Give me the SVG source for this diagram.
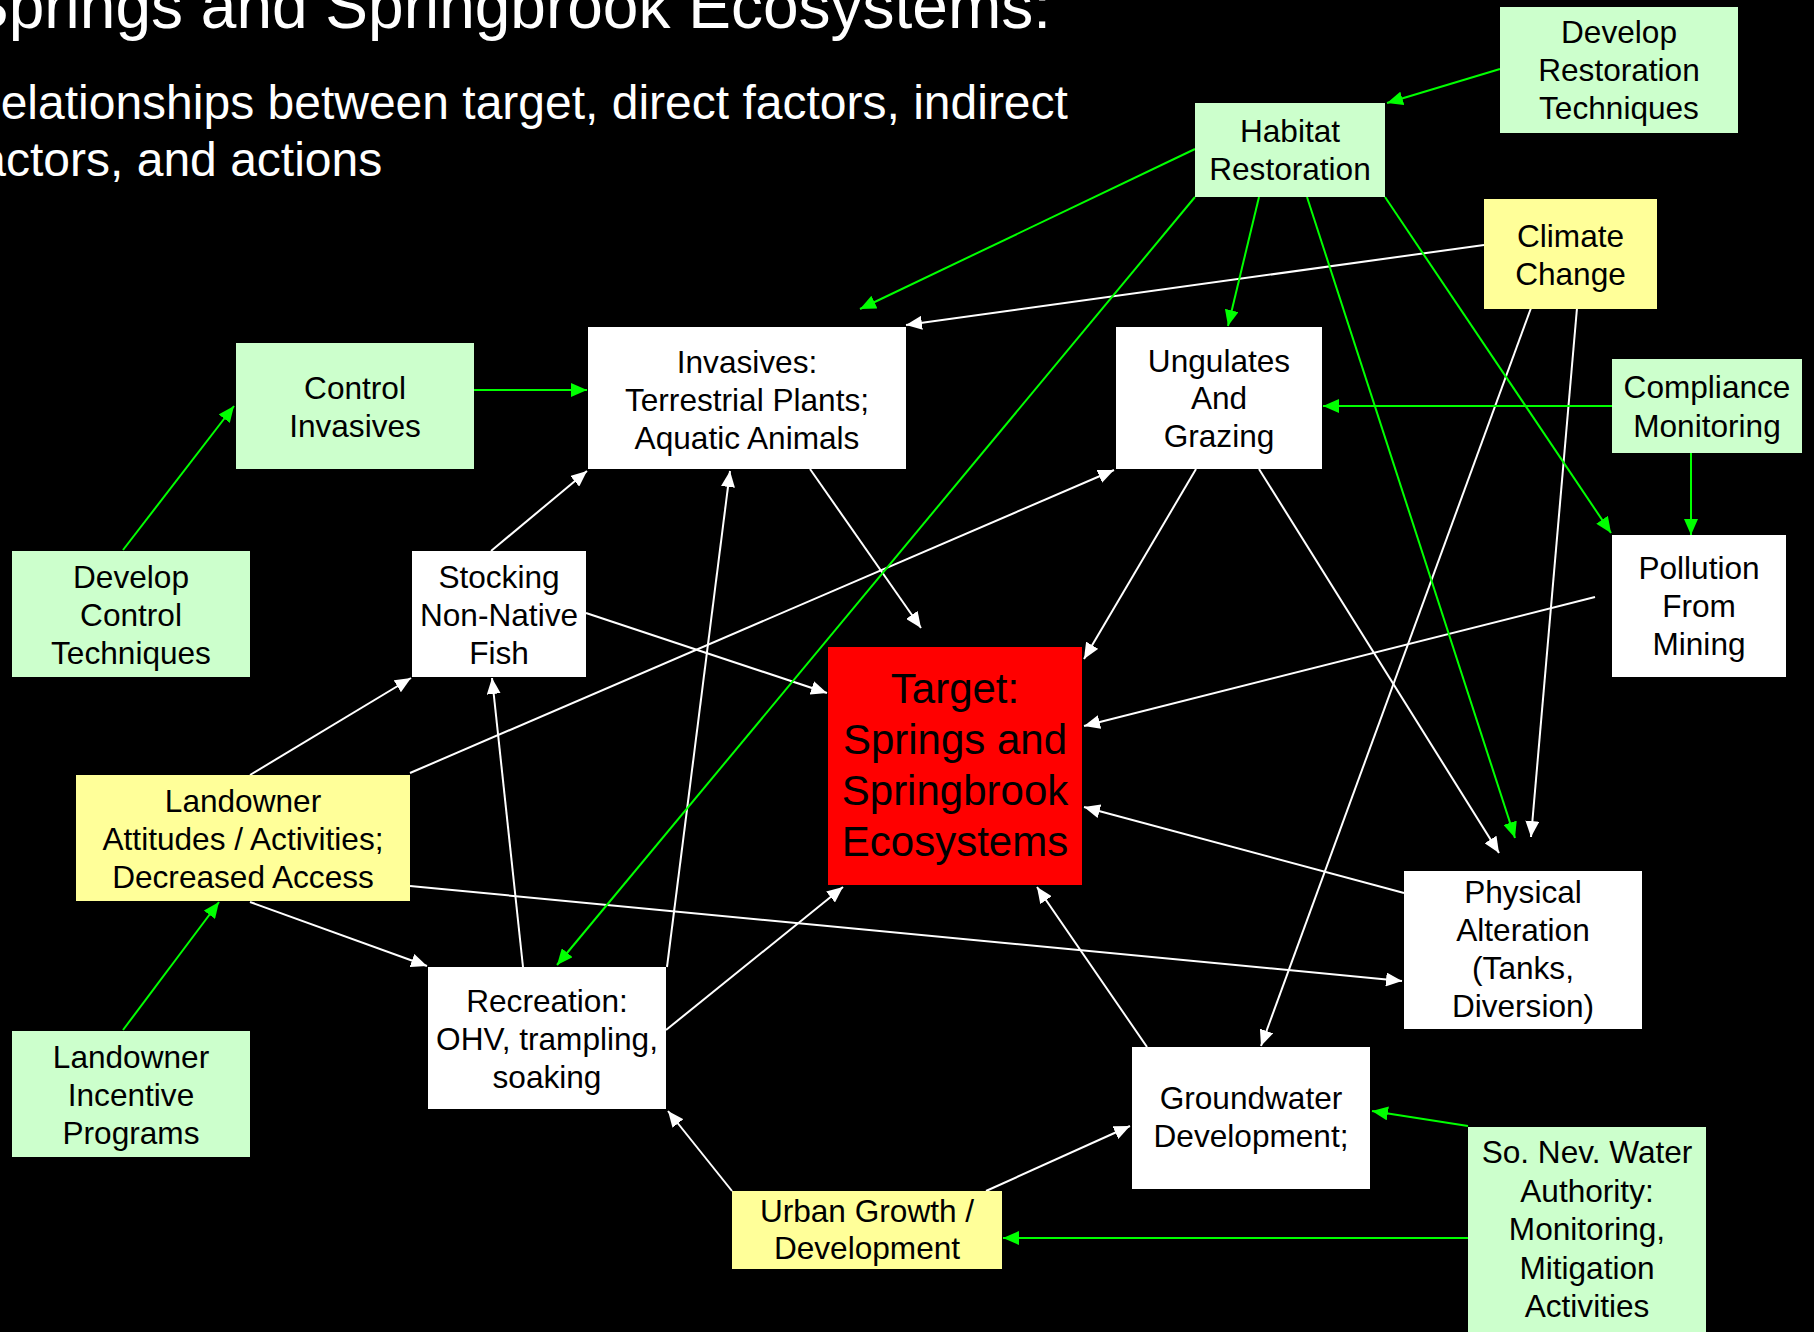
<svg xmlns="http://www.w3.org/2000/svg" width="1814" height="1332" viewBox="0 0 1814 1332">
<style>
  .bg { fill: #000000; }
  .title { font-family: "Liberation Sans", Arial, sans-serif; fill: #ffffff; }
  .t { font-family: "Liberation Sans", Arial, sans-serif; font-size: 31.6px; text-anchor: middle; fill: #000000; }
  .tt { font-family: "Liberation Sans", Arial, sans-serif; font-size: 42px; text-anchor: middle; fill: #000000; }
  .act { fill: #CCFFCC; }
  .ind { fill: #FFFF99; }
  .dir { fill: #FFFFFF; }
  .tgt { fill: #FF0000; }
  .w { stroke: #FFFFFF; stroke-width: 2; fill: none; marker-end: url(#aw); }
  .g { stroke: #00FF00; stroke-width: 2; fill: none; marker-end: url(#ag); }
</style>
<defs>
  <marker id="aw" markerUnits="userSpaceOnUse" markerWidth="17" markerHeight="14" refX="16" refY="7" orient="auto">
    <path d="M0,0 L16,7 L0,14 Z" fill="#FFFFFF"/>
  </marker>
  <marker id="ag" markerUnits="userSpaceOnUse" markerWidth="17" markerHeight="14" refX="16" refY="7" orient="auto">
    <path d="M0,0 L16,7 L0,14 Z" fill="#00FF00"/>
  </marker>
</defs>
<rect class="bg" x="0" y="0" width="1814" height="1332"/>

<g id="title">
  <text class="title" x="-34" y="28" font-size="64">Springs and Springbrook Ecosystems:</text>
  <text class="title" x="-34" y="119" font-size="48">Relationships between target, direct factors, indirect</text>
  <text class="title" x="-34" y="176" font-size="48">factors, and actions</text>
</g>

<g id="connectors">
  <line class="w" x1="1484" y1="245" x2="906" y2="325"/>
  <line class="w" x1="491" y1="551" x2="587" y2="471"/>
  <line class="w" x1="667" y1="967" x2="730" y2="471"/>
  <line class="w" x1="810" y1="469" x2="921" y2="628"/>
  <line class="w" x1="586" y1="613" x2="827" y2="693"/>
  <line class="w" x1="1196" y1="469" x2="1084" y2="659"/>
  <line class="w" x1="1595" y1="597" x2="1084" y2="726"/>
  <line class="w" x1="1404" y1="893" x2="1084" y2="807"/>
  <line class="w" x1="1147" y1="1047" x2="1037" y2="887"/>
  <line class="w" x1="666" y1="1030" x2="843" y2="887"/>
  <line class="w" x1="250" y1="775" x2="411" y2="678"/>
  <line class="w" x1="410" y1="773" x2="1114" y2="470"/>
  <line class="w" x1="250" y1="902" x2="427" y2="966"/>
  <line class="w" x1="410" y1="886" x2="1402" y2="981"/>
  <line class="w" x1="523" y1="967" x2="492" y2="678"/>
  <line class="w" x1="1259" y1="469" x2="1499" y2="853"/>
  <line class="w" x1="1577" y1="308" x2="1531" y2="837"/>
  <line class="w" x1="1531" y1="308" x2="1261" y2="1046"/>
  <line class="w" x1="732" y1="1191" x2="668" y2="1111"/>
  <line class="w" x1="986" y1="1191" x2="1130" y2="1126"/>

  <line class="g" x1="1500" y1="69" x2="1387" y2="103"/>
  <line class="g" x1="1195" y1="149" x2="860" y2="309"/>
  <line class="g" x1="1259" y1="197" x2="1228" y2="326"/>
  <line class="g" x1="1307" y1="197" x2="1515" y2="838"/>
  <line class="g" x1="1385" y1="197" x2="1611" y2="533"/>
  <line class="g" x1="1195" y1="197" x2="557" y2="965"/>
  <line class="g" x1="1612" y1="406" x2="1323" y2="406"/>
  <line class="g" x1="1691" y1="453" x2="1691" y2="535"/>
  <line class="g" x1="123" y1="550" x2="234" y2="406"/>
  <line class="g" x1="474" y1="390" x2="587" y2="390"/>
  <line class="g" x1="123" y1="1030" x2="219" y2="902"/>
  <line class="g" x1="1468" y1="1126" x2="1372" y2="1111"/>
  <line class="g" x1="1468" y1="1238" x2="1003" y2="1238"/>
</g>

<g id="develop-restoration">
  <rect class="act" x="1500" y="7" width="238" height="126"/>
  <text class="t" x="1619" y="43">Develop</text>
  <text class="t" x="1619" y="81">Restoration</text>
  <text class="t" x="1619" y="119">Techniques</text>
</g>
<g id="habitat-restoration">
  <rect class="act" x="1195" y="103" width="190" height="94"/>
  <text class="t" x="1290" y="142">Habitat</text>
  <text class="t" x="1290" y="180">Restoration</text>
</g>
<g id="climate-change">
  <rect class="ind" x="1484" y="199" width="173" height="110"/>
  <text class="t" x="1570.5" y="247">Climate</text>
  <text class="t" x="1570.5" y="285">Change</text>
</g>
<g id="control-invasives">
  <rect class="act" x="236" y="343" width="238" height="126"/>
  <text class="t" x="355" y="399">Control</text>
  <text class="t" x="355" y="437">Invasives</text>
</g>
<g id="invasives">
  <rect class="dir" x="588" y="327" width="318" height="142"/>
  <text class="t" x="747" y="373">Invasives:</text>
  <text class="t" x="747" y="411">Terrestrial Plants;</text>
  <text class="t" x="747" y="449">Aquatic Animals</text>
</g>
<g id="ungulates">
  <rect class="dir" x="1116" y="327" width="206" height="142"/>
  <text class="t" x="1219" y="372">Ungulates</text>
  <text class="t" x="1219" y="409">And</text>
  <text class="t" x="1219" y="447">Grazing</text>
</g>
<g id="compliance-monitoring">
  <rect class="act" x="1612" y="359" width="190" height="94"/>
  <text class="t" x="1707" y="398">Compliance</text>
  <text class="t" x="1707" y="437">Monitoring</text>
</g>
<g id="develop-control">
  <rect class="act" x="12" y="551" width="238" height="126"/>
  <text class="t" x="131" y="588">Develop</text>
  <text class="t" x="131" y="626">Control</text>
  <text class="t" x="131" y="664">Techniques</text>
</g>
<g id="stocking">
  <rect class="dir" x="412" y="551" width="174" height="126"/>
  <text class="t" x="499" y="588">Stocking</text>
  <text class="t" x="499" y="626">Non-Native</text>
  <text class="t" x="499" y="664">Fish</text>
</g>
<g id="pollution">
  <rect class="dir" x="1612" y="535" width="174" height="142"/>
  <text class="t" x="1699" y="579">Pollution</text>
  <text class="t" x="1699" y="617">From</text>
  <text class="t" x="1699" y="655">Mining</text>
</g>
<g id="target">
  <rect class="tgt" x="828" y="647" width="254" height="238"/>
  <text class="tt" x="955" y="703">Target:</text>
  <text class="tt" x="955" y="754">Springs and</text>
  <text class="tt" x="955" y="805">Springbrook</text>
  <text class="tt" x="955" y="856">Ecosystems</text>
</g>
<g id="landowner-attitudes">
  <rect class="ind" x="76" y="775" width="334" height="126"/>
  <text class="t" x="243" y="812">Landowner</text>
  <text class="t" x="243" y="850">Attitudes / Activities;</text>
  <text class="t" x="243" y="888">Decreased Access</text>
</g>
<g id="physical-alteration">
  <rect class="dir" x="1404" y="871" width="238" height="158"/>
  <text class="t" x="1523" y="903">Physical</text>
  <text class="t" x="1523" y="941">Alteration</text>
  <text class="t" x="1523" y="979">(Tanks,</text>
  <text class="t" x="1523" y="1017">Diversion)</text>
</g>
<g id="recreation">
  <rect class="dir" x="428" y="967" width="238" height="142"/>
  <text class="t" x="547" y="1012">Recreation:</text>
  <text class="t" x="547" y="1050">OHV, trampling,</text>
  <text class="t" x="547" y="1088">soaking</text>
</g>
<g id="landowner-incentive">
  <rect class="act" x="12" y="1031" width="238" height="126"/>
  <text class="t" x="131" y="1068">Landowner</text>
  <text class="t" x="131" y="1106">Incentive</text>
  <text class="t" x="131" y="1144">Programs</text>
</g>
<g id="groundwater">
  <rect class="dir" x="1132" y="1047" width="238" height="142"/>
  <text class="t" x="1251" y="1109">Groundwater</text>
  <text class="t" x="1251" y="1147">Development;</text>
</g>
<g id="urban-growth">
  <rect class="ind" x="732" y="1191" width="270" height="78"/>
  <text class="t" x="867" y="1222">Urban Growth /</text>
  <text class="t" x="867" y="1259">Development</text>
</g>
<g id="snwa">
  <rect class="act" x="1468" y="1127" width="238" height="215"/>
  <text class="t" x="1587" y="1163">So. Nev. Water</text>
  <text class="t" x="1587" y="1202">Authority:</text>
  <text class="t" x="1587" y="1240">Monitoring,</text>
  <text class="t" x="1587" y="1279">Mitigation</text>
  <text class="t" x="1587" y="1317">Activities</text>
</g>
</svg>
